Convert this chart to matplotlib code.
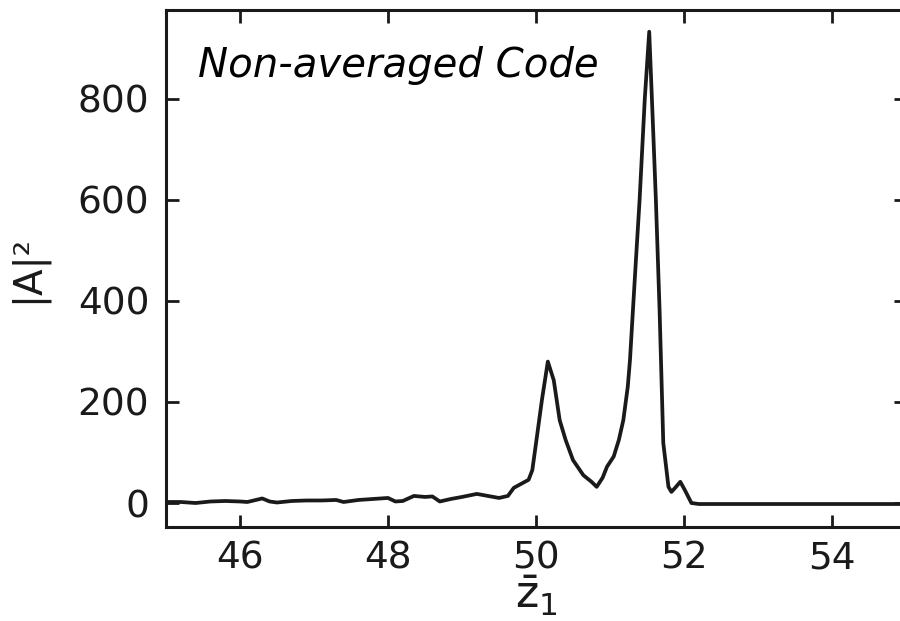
import matplotlib
matplotlib.use("Agg")
import matplotlib.pyplot as plt

# z1 positions and |A|^2 values
z1 = [45.0, 45.2, 45.4, 45.6, 45.8, 46.0, 46.1, 46.3, 46.4, 46.5, 46.7, 46.9,
      47.1, 47.3, 47.4, 47.6, 47.8, 48.0, 48.1, 48.2, 48.35, 48.5, 48.6, 48.7,
      48.85, 49.0, 49.2, 49.35, 49.5, 49.62, 49.7, 49.8, 49.9, 49.95, 50.0,
      50.08, 50.16, 50.24, 50.32, 50.4, 50.5, 50.64, 50.75, 50.82, 50.9, 50.96,
      51.05, 51.12, 51.18, 51.24, 51.27, 51.31, 51.35, 51.4, 51.47, 51.53,
      51.58, 51.62, 51.67, 51.72, 51.79, 51.83, 51.88, 51.95, 52.01, 52.1,
      52.2, 52.5, 53.0, 54.0, 55.0]
amp2 = [2, 2, 0, 3, 4, 3, 2, 9, 3, 1, 4, 5,
        5, 6, 2, 6, 8, 10, 3, 4, 14, 12, 13, 3,
        8, 12, 18, 14, 10, 14, 30, 38, 46, 65, 118,
        204, 280, 243, 164, 125, 85, 55, 42, 32, 50, 72,
        92, 125, 164, 230, 283, 382, 480, 600, 800, 933,
        750, 600, 382, 119, 32, 22, 30, 42, 26, 0,
        -2, -2, -2, -2, -2]

xticks = [46, 48, 50, 52, 54]
yticks = [0, 200, 400, 600, 800]

fig = plt.figure(figsize=(9, 6.21), dpi=100)
# right spine sits just past the image edge, as in the reference
ax = fig.add_axes([166 / 900, 1 - 527 / 621, 740 / 900, 517 / 621])

ax.plot(z1, amp2, color="#1a1a1a", lw=2.7)

ax.set_xlim(45, 55)
ax.set_ylim(-47.5, 976)
ax.set_xticks(xticks)
ax.set_yticks(yticks)

for side in ["left", "bottom", "top", "right"]:
    ax.spines[side].set_linewidth(2.2)
    ax.spines[side].set_color("#1a1a1a")

ax.tick_params(direction="in", length=9, width=2, color="#1a1a1a",
               top=True, right=True, labelsize=27, labelcolor="#1a1a1a")
ax.tick_params(axis="x", pad=10)
ax.tick_params(axis="y", pad=12)

ax.set_ylabel("|A|²", fontsize=28, color="#1a1a1a", labelpad=22)
ax.set_xlabel(r"$\bar{\mathrm{z}}_1$", fontsize=32, color="#1a1a1a", labelpad=-2)

fig.text(198 / 900, 1 - 77 / 621, "Non-averaged Code", fontsize=29,
         style="italic", color="black")

fig.savefig("out.png", dpi=100)
